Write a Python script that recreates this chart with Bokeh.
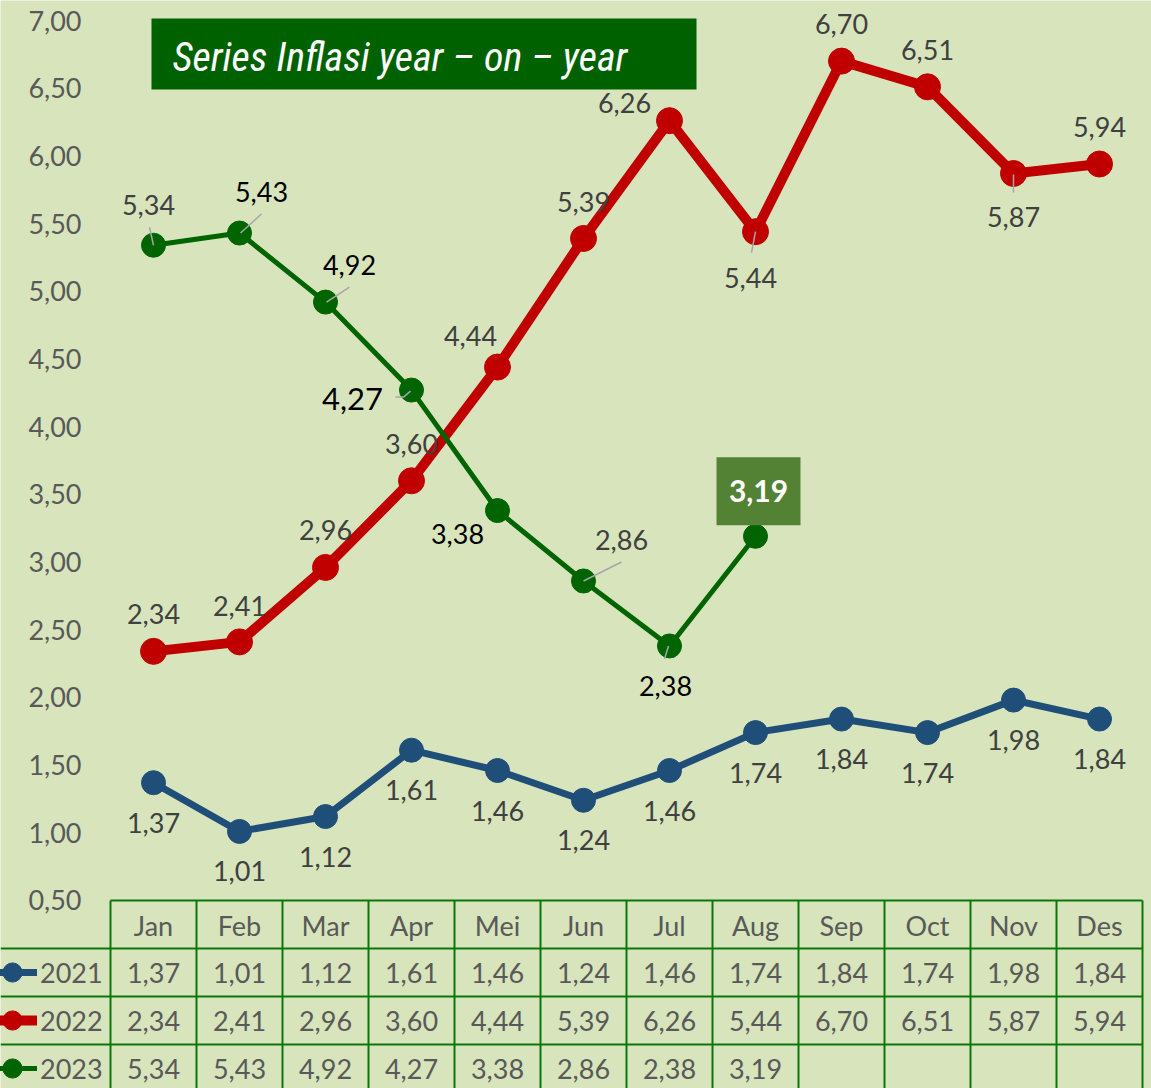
from bokeh.plotting import figure
from bokeh.models import Range1d, ColumnDataSource, Legend, LegendItem
from bokeh.core.properties import value
from bokeh.embed import file_html
from bokeh.resources import INLINE

# ---------------- data ----------------
months = ["Jan", "Feb", "Mar", "Apr", "Mei", "Jun", "Jul", "Aug", "Sep", "Oct", "Nov", "Des"]
infl_2021 = [1.37, 1.01, 1.12, 1.61, 1.46, 1.24, 1.46, 1.74, 1.84, 1.74, 1.98, 1.84]
infl_2022 = [2.34, 2.41, 2.96, 3.60, 4.44, 5.39, 6.26, 5.44, 6.70, 6.51, 5.87, 5.94]
infl_2023 = [5.34, 5.43, 4.92, 4.27, 3.38, 2.86, 2.38, 3.19]
years = ["2021", "2022", "2023"]
y_ticks = [0.50, 1.00, 1.50, 2.00, 2.50, 3.00, 3.50, 4.00, 4.50, 5.00, 5.50, 6.00, 6.50, 7.00]
title_text = "Series Inflasi year \u2013 on \u2013 year"

# ---------------- layout helpers (pixel geometry of the picture) ----------------
W, H = 1151, 1088
PX_X = 86.0      # pixels per month
PX_Y = 135.38    # pixels per 1.00 of inflation
FONT = "Lato"
BG = "#d8e4bc"
GRID = "#0a760a"
TXT = "#595959"


def dx(rx):
    return (rx - 153) / PX_X


def dy(ry):
    return 7.0 - (ry - 20) / PX_Y


def fmt(v):
    return f"{v:.2f}".replace(".", ",")


p = figure(width=W, height=H, output_backend="svg", toolbar_location=None,
           x_range=Range1d(dx(0), dx(W)), y_range=Range1d(dy(H), dy(0)),
           x_axis_location=None, y_axis_location=None, min_border=0)
p.grid.visible = False
p.outline_line_color = None
p.background_fill_color = BG
p.border_fill_color = BG

# ---------------- y tick labels ----------------
p.text(x=[dx(81)] * len(y_ticks), y=y_ticks, text=[fmt(t) for t in y_ticks],
       text_align="right", text_baseline="middle", text_font=value(FONT),
       text_font_size="27px", text_color=TXT)

# ---------------- title box ----------------
p.quad(left=[dx(151)], right=[dx(696)], top=[dy(18)], bottom=[dy(89)],
       fill_color="#006100", line_color=None)
p.text(x=[dx(172)], y=[dy(57)], text=[title_text], text_align="left",
       text_baseline="middle", text_font=value("Liberation Sans Narrow, Roboto Condensed, sans-serif"),
       text_font_style="italic", text_font_size="40px", text_color="white")

# ---------------- data table ----------------
n = len(months)
xs_idx = list(range(n))
row_edges = [dy(900), dy(948), dy(996), dy(1044), dy(1095)]
# vertical lines
p.segment(x0=[i - 0.5 for i in range(n + 1)], x1=[i - 0.5 for i in range(n + 1)],
          y0=[row_edges[0]] * (n + 1), y1=[row_edges[-1]] * (n + 1),
          line_color=GRID, line_width=2)
# horizontal lines
p.segment(x0=[-0.5, dx(0), dx(0), dx(0)], x1=[n - 0.5] * 4,
          y0=row_edges[:4], y1=row_edges[:4], line_color=GRID, line_width=2)
# header
p.text(x=xs_idx, y=[dy(925)] * n, text=months, text_align="center",
       text_baseline="middle", text_font=value(FONT), text_font_size="27px", text_color=TXT)
row_centers = [dy(972), dy(1020), dy(1068)]
for vals, yc in zip([infl_2021, infl_2022, infl_2023], row_centers):
    p.text(x=list(range(len(vals))), y=[yc] * len(vals), text=[fmt(v) for v in vals],
           text_align="center", text_baseline="middle", text_font=value(FONT),
           text_font_size="27px", text_color=TXT)

# ---------------- series ----------------
styles = {
    "2021": dict(color="#1f4e79", lw=7, ms=24),
    "2022": dict(color="#c00000", lw=10, ms=26),
    "2023": dict(color="#006400", lw=5, ms=24),
}
series = {"2021": infl_2021, "2022": infl_2022, "2023": infl_2023}

# label offsets (pixels, relative to the point) and leader lines
label_off = {
    "2021": [(0, 40)] * 12,
    "2022": [(0, -37), (0, -36), (0, -37), (0, -37), (-27, -31), (0, -36),
             (-45, -18), (-5, 46), (0, -37), (0, -37), (0, 44), (0, -37)],
    "2023": [(-5, -40), (22, -41), (24, -37), (-59, 9), (-40, 23), (38, -41), (-4, 40), (3, -45)],
}
label_col = {
    "2021": ["#404040"] * 12,
    "2022": ["#404040"] * 12,
    "2023": ["#404040", "#000000", "#000000", "#000000", "#000000", "#404040", "#000000", "#ffffff"],
}
label_size = {
    "2021": ["27px"] * 12,
    "2022": ["27px"] * 12,
    "2023": ["27px", "27px", "27px", "31px", "27px", "27px", "27px", "30px"],
}
leaders = {  # (series, index): pixel polyline relative to the point
    ("2022", 7): [(0, 0), (-4, 21)],
    ("2022", 10): [(0, 1), (0, 19)],
    ("2023", 0): [(0, 0), (-4, -18)],
    ("2023", 1): [(1, 0), (22, -19)],
    ("2023", 2): [(1, 0), (24, -15)],
    ("2023", 3): [(-16, 7), (-8, 7), (-1, 1)],
    ("2023", 5): [(0, 0), (38, -19)],
    ("2023", 6): [(-1, 0), (-5, 13)],
}

legend_items = []
for yr in years:
    vals = series[yr]
    st = styles[yr]
    src = ColumnDataSource(dict(x=list(range(len(vals))), y=vals))
    lr = p.line("x", "y", source=src, line_color=st["color"], line_width=st["lw"])
    sr = p.scatter("x", "y", source=src, size=st["ms"], fill_color=st["color"],
                   line_color=st["color"], marker="circle")
    legend_items.append(LegendItem(label=yr, renderers=[lr, sr]))

# Aug 2023 highlight box
p.rect(x=[7 + 3 / PX_X], y=[infl_2023[7] + 45 / PX_Y], width=84, height=68,
       width_units="screen", height_units="screen", fill_color="#548235", line_color=None)

# leader lines
lx, ly = [], []
for (yr, i), pts in leaders.items():
    v = series[yr][i]
    lx.append([i + a / PX_X for a, b in pts])
    ly.append([v - b / PX_Y for a, b in pts])
p.multi_line(xs=lx, ys=ly, line_color="#a6a6a6", line_width=1.5)

# data labels
for yr in years:
    vals = series[yr]
    offs = label_off[yr]
    src = ColumnDataSource(dict(
        x=list(range(len(vals))), y=vals, t=[fmt(v) for v in vals],
        xo=[o[0] for o in offs], yo=[o[1] for o in offs],
        c=label_col[yr], s=label_size[yr],
        fs=["bold" if (yr == "2023" and i == 7) else "normal" for i in range(len(vals))],
    ))
    p.text("x", "y", text="t", source=src, x_offset="xo", y_offset="yo",
           text_color="c", text_font_size="s", text_font_style="fs",
           text_font=value(FONT), text_align="center", text_baseline="middle")

legend = Legend(items=legend_items, location=(-13, -4), orientation="vertical",
                glyph_width=50, glyph_height=48, label_height=48, spacing=0,
                padding=0, margin=0, label_standoff=3,
                label_text_font=FONT, label_text_font_size="27px", label_text_color=TXT,
                background_fill_alpha=0, border_line_alpha=0)
p.add_layout(legend)

open("out.html", "w").write(file_html(p, INLINE))
